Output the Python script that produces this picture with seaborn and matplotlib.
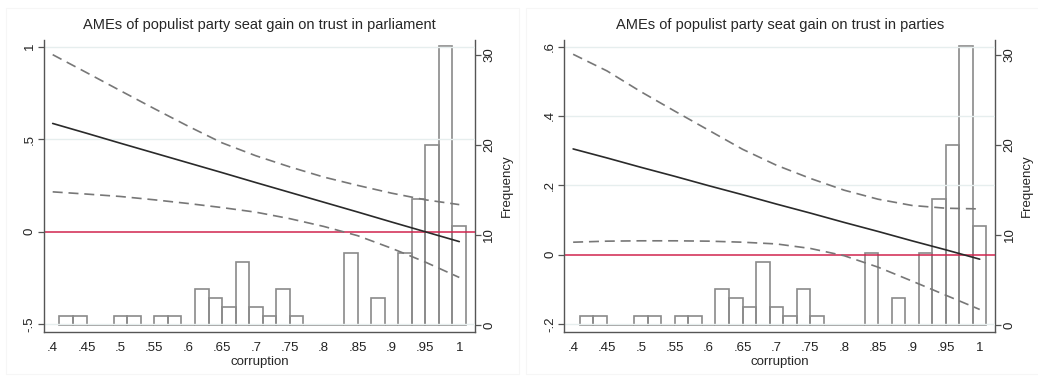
import matplotlib
matplotlib.use("Agg")
import matplotlib.pyplot as plt
import numpy as np
import pandas as pd
import seaborn as sns

# Corruption values at which the marginal effects are evaluated
corruption = [0.40, 0.45, 0.50, 0.55, 0.60, 0.65, 0.70, 0.75, 0.80, 0.85, 0.90, 0.95, 1.00]

# AMEs on trust in parliament, with 95% confidence bounds
parl_ame = [0.585, 0.532, 0.478, 0.425, 0.372, 0.319, 0.265, 0.212, 0.159, 0.106, 0.052, -0.001, -0.054]
parl_hi = [0.957, 0.860, 0.762, 0.665, 0.570, 0.480, 0.410, 0.350, 0.295, 0.250, 0.208, 0.172, 0.146]
parl_lo = [0.215, 0.203, 0.190, 0.172, 0.152, 0.130, 0.105, 0.070, 0.028, -0.022, -0.090, -0.165, -0.248]

# AMEs on trust in parties, with 95% confidence bounds
part_ame = [0.305, 0.279, 0.252, 0.226, 0.199, 0.173, 0.146, 0.120, 0.093, 0.067, 0.040, 0.014, -0.013]
part_hi = [0.578, 0.530, 0.470, 0.414, 0.359, 0.304, 0.258, 0.220, 0.186, 0.160, 0.142, 0.134, 0.132]
part_lo = [0.036, 0.039, 0.040, 0.040, 0.039, 0.036, 0.031, 0.018, -0.003, -0.036, -0.076, -0.117, -0.158]

# Distribution of corruption: bin midpoints and frequencies
bin_mid = [0.42, 0.44, 0.50, 0.52, 0.56, 0.58, 0.62, 0.64, 0.66, 0.68, 0.70,
           0.72, 0.74, 0.76, 0.84, 0.88, 0.92, 0.94, 0.96, 0.98, 1.00]
bin_freq = [1, 1, 1, 1, 1, 1, 4, 3, 2, 7, 2, 1, 4, 1, 8, 3, 8, 14, 20, 31, 11]

x_ticks = [0.40, 0.45, 0.50, 0.55, 0.60, 0.65, 0.70, 0.75, 0.80, 0.85, 0.90, 0.95, 1.00]
x_labels = [".4", ".45", ".5", ".55", ".6", ".65", ".7", ".75", ".8", ".85", ".9", ".95", "1"]
freq_ticks = [0, 10, 20, 30]

sns.set_theme(style="white")
plt.rcParams["font.family"] = ["Liberation Sans", "DejaVu Sans"]

AX_COL = "#555555"
GRID_COL = "#e6eeee"

fig = plt.figure(figsize=(10.38, 3.78), dpi=100)

panels = [
    dict(left=0.0424, title="AMEs of populist party seat gain on trust in parliament",
         ame=parl_ame, hi=parl_hi, lo=parl_lo, ylim=(-0.543, 1.036),
         yticks=[-0.5, 0, 0.5, 1], ylabels=["-.5", "0", ".5", "1"]),
    dict(left=0.5438, title="AMEs of populist party seat gain on trust in parties",
         ame=part_ame, hi=part_hi, lo=part_lo, ylim=(-0.223, 0.619),
         yticks=[-0.2, 0, 0.2, 0.4, 0.6], ylabels=["-.2", "0", ".2", ".4", ".6"]),
]

hist_df = pd.DataFrame({"corruption": bin_mid, "freq": bin_freq})

for p in panels:
    # faint frame around each graph region
    frame_left = p["left"] - 0.037
    fig.patches.append(plt.Rectangle((frame_left, 0.01), 0.495, 0.97,
                                     transform=fig.transFigure, fill=False,
                                     edgecolor="#f6f6f6", linewidth=0.8))

    ax = fig.add_axes([p["left"], 0.1217, 0.4152, 0.7723])
    ax2 = ax.twinx()

    df = pd.DataFrame({"corruption": corruption, "ame": p["ame"],
                       "hi": p["hi"], "lo": p["lo"]})

    for yv in p["yticks"]:
        if yv != 0:
            ax.axhline(yv, color=GRID_COL, linewidth=1.0, zorder=0)

    # frequency histogram on the secondary axis
    sns.histplot(data=hist_df, x="corruption", weights="freq", binwidth=0.02,
                 binrange=(0.41, 1.01), fill=False, element="bars",
                 color="#8a8a8a", linewidth=1.2, ax=ax2)

    ax.axhline(0, color="#d1244e", linewidth=1.1, zorder=2)
    sns.lineplot(data=df, x="corruption", y="hi", ax=ax, color="#777777",
                 linewidth=1.2, linestyle=(0, (6, 3.5)), zorder=3)
    sns.lineplot(data=df, x="corruption", y="lo", ax=ax, color="#777777",
                 linewidth=1.2, linestyle=(0, (6, 3.5)), zorder=3)
    sns.lineplot(data=df, x="corruption", y="ame", ax=ax, color="#2a2a2a",
                 linewidth=1.2, zorder=3)

    # main axis above the histogram axis so lines sit on top of bars
    ax.set_zorder(ax2.get_zorder() + 1)
    ax.patch.set_visible(False)

    ax.set_xlim(0.3872, 1.0232)
    ax.set_ylim(*p["ylim"])
    ax2.set_ylim(-0.78, 31.67)

    ax.set_xticks(x_ticks)
    ax.set_xticklabels(x_labels)
    ax.set_yticks(p["yticks"])
    ax.set_yticklabels(p["ylabels"], rotation=90, va="center")
    ax2.set_yticks(freq_ticks)
    ax2.set_yticklabels([str(t) for t in freq_ticks], rotation=90, va="center")

    ax.set_xlabel("corruption", fontsize=9.5, labelpad=1)
    ax.set_ylabel("")
    ax2.set_ylabel("Frequency", fontsize=9.5, labelpad=4)
    ax.set_title(p["title"], fontsize=10.5, pad=8)

    for a in (ax, ax2):
        a.tick_params(axis="both", labelsize=9.5, colors="#222222",
                      length=4, width=0.9, direction="out")
        for side in ("left", "right", "bottom"):
            a.spines[side].set_color(AX_COL)
            a.spines[side].set_linewidth(1.0)
        a.spines["top"].set_visible(False)
        a.grid(False)
    ax.spines["right"].set_visible(False)
    ax2.spines["left"].set_visible(False)
    ax2.spines["bottom"].set_visible(False)
    ax.tick_params(axis="x", colors=AX_COL, labelcolor="#222222")
    ax.tick_params(axis="y", left=True, colors=AX_COL, labelcolor="#222222", pad=2)
    ax2.tick_params(axis="y", right=True, colors=AX_COL, labelcolor="#222222", pad=2)

fig.savefig("out.png", dpi=100, facecolor="white")
